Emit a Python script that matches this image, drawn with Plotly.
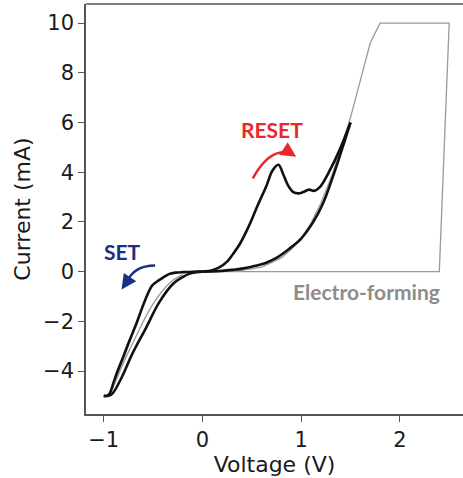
import plotly.graph_objects as go

# Electro-forming sweep (gray)
form_v = [0, 2.4, 2.5, 1.8, 1.7, 1.5, 1.4, 1.3, 1.2, 1.1, 1.0, 0.9, 0.8, 0.6, 0.4, 0.2, 0]
form_i = [0, 0, 10, 10, 9.2, 6.2, 4.9, 3.75, 2.75, 1.95, 1.35, 0.9, 0.55, 0.18, 0.05, 0.01, 0]

# Positive loop: upper (RESET) branch 0 -> 1.5 V
up_v = [0, 0.1, 0.17, 0.25, 0.31, 0.38, 0.44, 0.5, 0.55, 0.6, 0.65, 0.71, 0.77, 0.82,
        0.87, 0.92, 0.97, 1.02, 1.08, 1.13, 1.19, 1.29, 1.39, 1.5]
up_i = [0, 0.06, 0.17, 0.4, 0.71, 1.12, 1.58, 2.1, 2.58, 3.02, 3.47, 4.07, 4.3, 3.9,
        3.45, 3.2, 3.15, 3.2, 3.3, 3.25, 3.4, 4.07, 4.9, 6.0]
# Positive loop: lower branch 1.5 -> 0 V
lo_v = [1.5, 1.42, 1.32, 1.22, 1.12, 1.0, 0.88, 0.75, 0.64, 0.5, 0.4, 0.3, 0.2, 0.1, 0]
lo_i = [6.0, 5.0, 3.8, 2.73, 1.98, 1.33, 0.92, 0.55, 0.35, 0.2, 0.12, 0.07, 0.03, 0.01, 0]

# Negative loop: outer (SET) branch 0 -> -1 V
no_v = [0, -0.1, -0.2, -0.27, -0.34, -0.4, -0.46, -0.51, -0.56, -0.61, -0.67, -0.74,
        -0.8, -0.86, -0.9, -0.94, -0.97, -1.0]
no_i = [0, -0.01, -0.02, -0.04, -0.1, -0.24, -0.4, -0.56, -0.95, -1.45, -2.1, -2.78,
        -3.4, -4.0, -4.45, -4.9, -5.0, -5.0]
# Negative loop: inner branch -1 -> 0 V
ni_v = [-1.0, -0.95, -0.91, -0.82, -0.71, -0.57, -0.44, -0.3, -0.2, -0.13, -0.05, 0]
ni_i = [-5.0, -5.0, -4.9, -4.27, -3.3, -2.25, -1.25, -0.5, -0.22, -0.08, -0.01, 0]

# Additional thin gray cycles in the negative region
ga_v = [-0.45, -0.5, -0.55, -0.6, -0.66, -0.72, -0.78, -0.84, -0.9, -0.95, -0.98]
ga_i = [-0.35, -0.55, -0.85, -1.3, -1.95, -2.65, -3.3, -3.95, -4.55, -4.95, -5.0]
gb_v = [-0.2, -0.3, -0.4, -0.5, -0.58, -0.66, -0.74, -0.82, -0.9, -0.96]
gb_i = [-0.12, -0.35, -0.75, -1.3, -1.85, -2.5, -3.15, -3.85, -4.6, -5.0]

x_ticks = [-1, 0, 1, 2]
y_ticks = [-4, -2, 0, 2, 4, 6, 8, 10]
y_tick_text = ["\u22124", "\u22122", "0", "2", "4", "6", "8", "10"]
x_tick_text = ["\u22121", "0", "1", "2"]

fig = go.Figure()
gray = dict(color="#9a9a9a", width=1.3)
black = dict(color="#111111", width=2.6)
fig.add_trace(go.Scatter(x=form_v, y=form_i, mode="lines", line=gray))
fig.add_trace(go.Scatter(x=ga_v, y=ga_i, mode="lines", line=gray, line_shape="spline"))
fig.add_trace(go.Scatter(x=gb_v, y=gb_i, mode="lines", line=gray, line_shape="spline"))
for vx, iy in [(up_v, up_i), (lo_v, lo_i), (no_v, no_i), (ni_v, ni_i)]:
    fig.add_trace(go.Scatter(x=vx, y=iy, mode="lines", line=black, line_shape="spline"))

red = "#e8282a"
blue = "#1c2f80"
# curved arrows
fig.add_shape(type="path", xref="x", yref="y",
              path="M 0.51,3.75 Q 0.68,5.0 0.90,4.78", line=dict(color=red, width=2.5))
fig.add_annotation(x=0.95, y=4.62, ax=0.88, ay=4.8, xref="x", yref="y", axref="x", ayref="y",
                   text="", showarrow=True, arrowhead=2, arrowsize=1.2, arrowwidth=2.5, arrowcolor=red)
fig.add_shape(type="path", xref="x", yref="y",
              path="M -0.48,0.25 Q -0.7,0.25 -0.77,-0.45", line=dict(color=blue, width=2.5))
fig.add_annotation(x=-0.82, y=-0.72, ax=-0.765, ay=-0.4, xref="x", yref="y", axref="x", ayref="y",
                   text="", showarrow=True, arrowhead=2, arrowsize=1.2, arrowwidth=2.5, arrowcolor=blue)

fig.add_annotation(x=0.70, y=5.7, text="<b>RESET</b>", showarrow=False,
                   font=dict(family="Lato", size=21, color=red))
fig.add_annotation(x=-0.81, y=0.82, text="<b>SET</b>", showarrow=False,
                   font=dict(family="Lato", size=21, color=blue))
fig.add_annotation(x=1.66, y=-0.78, text="<b>Electro-forming</b>", showarrow=False,
                   font=dict(family="Lato", size=21, color="#8c8c8c"))

# top frame line
fig.add_shape(type="line", xref="paper", yref="paper", x0=0, x1=1, y0=1, y1=1,
              line=dict(color="#555555", width=1.5))

axis_common = dict(showline=True, linecolor="#555555", linewidth=1.5, ticks="outside",
                   ticklen=6, tickwidth=1.3, tickcolor="#555555", showgrid=False, zeroline=False,
                   tickfont=dict(family="DejaVu Sans", size=21, color="#1a1a1a"),
                   title_font=dict(family="DejaVu Sans", size=22, color="#1a1a1a"))
fig.update_xaxes(range=[-1.18, 2.64], tickvals=x_ticks, ticktext=x_tick_text,
                 title_text="Voltage (V)", title_standoff=4, **axis_common)
fig.update_yaxes(range=[-5.73, 10.77], tickvals=y_ticks, ticktext=y_tick_text,
                 title_text="Current (mA)", title_standoff=6, **axis_common)

fig.update_layout(width=463, height=478, margin=dict(l=86, r=0, t=4, b=64),
                  plot_bgcolor="white", paper_bgcolor="white", showlegend=False)
fig.write_html("out.html")
